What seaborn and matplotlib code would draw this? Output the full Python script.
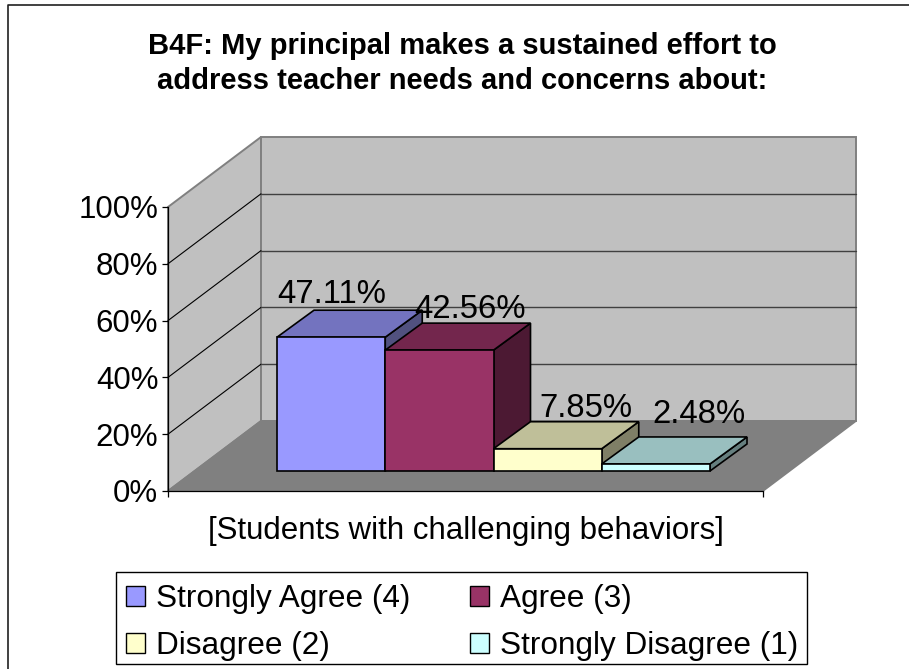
import matplotlib
matplotlib.use("Agg")
import matplotlib.pyplot as plt
import numpy as np
import pandas as pd
import seaborn as sns
from matplotlib.lines import Line2D
from matplotlib.patches import Patch, Polygon, Rectangle

categories = ["Strongly Agree (4)", "Agree (3)", "Disagree (2)", "Strongly Disagree (1)"]
shares = [47.11, 42.56, 7.85, 2.48]
value_ticks = [0, 20, 40, 60, 80, 100]
title = "B4F: My principal makes a sustained effort to\naddress teacher needs and concerns about:"
group_label = "[Students with challenging behaviors]"

WIDTH, HEIGHT = 909, 669
front_colors = ["#9999FF", "#993366", "#FFFFCC", "#CCFFFF"]
top_colors = ["#7373BF", "#73264D", "#BFBF99", "#99BFBF"]
side_colors = ["#51517F", "#4C1933", "#7F7F66", "#667F7F"]
# data label offsets from the bar's front top corner centre, in pixels
label_nudge = [(1, 34), (31, 32), (38, 32), (43, 41)]


def box(left, right, bottom, top):
    """Axes rectangle from picture pixels (y counted from the top)."""
    return [left / WIDTH, 1 - bottom / HEIGHT, (right - left) / WIDTH, (bottom - top) / HEIGHT]


sns.set_theme(style="white")
plt.rcParams["font.family"] = ["Liberation Sans", "DejaVu Sans"]

fig = plt.figure(figsize=(WIDTH / 100, HEIGHT / 100), dpi=100)
fig.add_artist(Line2D([8 / WIDTH, 8 / WIDTH, 1], [0, 1 - 5 / HEIGHT, 1 - 5 / HEIGHT],
                      color="#202020", lw=1.2, transform=fig.transFigure))
fig.text(462 / WIDTH, 1 - 63.5 / HEIGHT, title, ha="center", va="center", fontsize=21,
         fontweight="bold", color="black", linespacing=1.3)

# front plane: walls, floor and value axis
ax = fig.add_axes(box(168, 763, 491, 207))
ax.patch.set_alpha(0)
ax.set_xlim(0, 1)
ax.set_ylim(0, 100)
depth_x, depth_y = 93 / 595, 70 / 2.84

wall_color, floor_color, edge_color = "#C0C0C0", "#808080", "#808080"
ax.add_patch(Polygon([(0, 0), (depth_x, depth_y), (depth_x, 100 + depth_y), (0, 100)], closed=True,
                     facecolor=wall_color, edgecolor=edge_color, lw=1.4, clip_on=False, zorder=0))
ax.add_patch(Polygon([(depth_x, depth_y), (1 + depth_x, depth_y), (1 + depth_x, 100 + depth_y),
                      (depth_x, 100 + depth_y)], closed=True,
                     facecolor=wall_color, edgecolor=edge_color, lw=1.4, clip_on=False, zorder=0))
ax.add_patch(Polygon([(0, 0), (1, 0), (1 + depth_x, depth_y), (depth_x, depth_y)], closed=True,
                     facecolor=floor_color, edgecolor=edge_color, lw=1.2, clip_on=False, zorder=0))
for v in value_ticks[1:-1]:
    ax.plot([0, depth_x], [v, v + depth_y], color="black", lw=0.8, clip_on=False, zorder=1)
    ax.plot([depth_x, 1 + depth_x], [v + depth_y, v + depth_y], color="#404040", lw=1.0,
            clip_on=False, zorder=1)

sns.despine(ax=ax, top=True, right=True)
for side in ["left", "bottom"]:
    ax.spines[side].set_color("black")
    ax.spines[side].set_linewidth(0.9)
    ax.spines[side].set_zorder(2)
ax.set_yticks(value_ticks)
ax.set_yticklabels([f"{v}%" for v in value_ticks], fontsize=22.5, color="black")
ax.set_xticks([0, 1])
ax.set_xticklabels(["", ""])
ax.tick_params(axis="both", left=True, bottom=True, length=4, width=0.9, color="black", pad=3)
ax.set_xlabel(group_label, fontsize=22.5, color="black", labelpad=11)

# bar plane sits a little behind the front plane
bar_ax = fig.add_axes(box(277, 710, 471, 187))
bar_ax.patch.set_alpha(0)
frame = pd.DataFrame({"response": categories, "share": shares})
sns.barplot(data=frame, x="response", y="share", hue="response", palette=front_colors, width=1,
            legend=False, edgecolor="black", linewidth=1.2, saturation=1, ax=bar_ax, zorder=5)
bar_ax.set_xlim(-0.5, 3.5)
bar_ax.set_ylim(0, 100)
bar_ax.axis("off")

bar_dx, bar_dy = 37 / 108.25, 27 / 2.84
for i, (value, rect) in enumerate(zip(shares, list(bar_ax.patches))):
    rect.set_zorder(5 + i * 3)
    rect.set_clip_on(False)
    l, r = i - 0.5, i + 0.5
    bar_ax.add_patch(Polygon([(r, 0), (r + bar_dx, bar_dy), (r + bar_dx, value + bar_dy), (r, value)],
                             closed=True, facecolor=side_colors[i], edgecolor="black", lw=1.2,
                             clip_on=False, zorder=4 + i * 3))
    bar_ax.add_patch(Polygon([(l, value), (r, value), (r + bar_dx, value + bar_dy), (l + bar_dx, value + bar_dy)],
                             closed=True, facecolor=top_colors[i], edgecolor="black", lw=1.2,
                             clip_on=False, zorder=4 + i * 3))
    bar_ax.annotate(f"{value:.2f}%", xy=(i, value), xytext=label_nudge[i], textcoords="offset pixels",
                    ha="center", va="baseline", fontsize=23.7, color="black", zorder=30,
                    annotation_clip=False)

# legend frame is drawn apart, its padding is not even around the text
fig.add_artist(Rectangle((115.5 / WIDTH, 1 - 664 / HEIGHT), (807 - 115.5) / WIDTH, 92 / HEIGHT,
                         transform=fig.transFigure, facecolor="white", edgecolor="black", lw=1.0))
# matplotlib fills legend columns first, the picture reads row by row
order = [0, 2, 1, 3]
handles = [Patch(facecolor=front_colors[i], edgecolor="black", linewidth=1.0) for i in order]
legend = fig.legend(handles, [categories[i] for i in order], ncol=2, loc="lower left",
                    bbox_to_anchor=(115.5 / WIDTH, 1 - 671 / HEIGHT), bbox_transform=fig.transFigure,
                    fontsize=22.7, frameon=False, borderaxespad=0, handlelength=0.6, handleheight=0.6,
                    handletextpad=0.35, columnspacing=1.9, labelspacing=0.53, borderpad=0.32,
                    labelcolor="black")
legend.set_zorder(10)

fig.savefig("out.png", dpi=100, facecolor="white")
